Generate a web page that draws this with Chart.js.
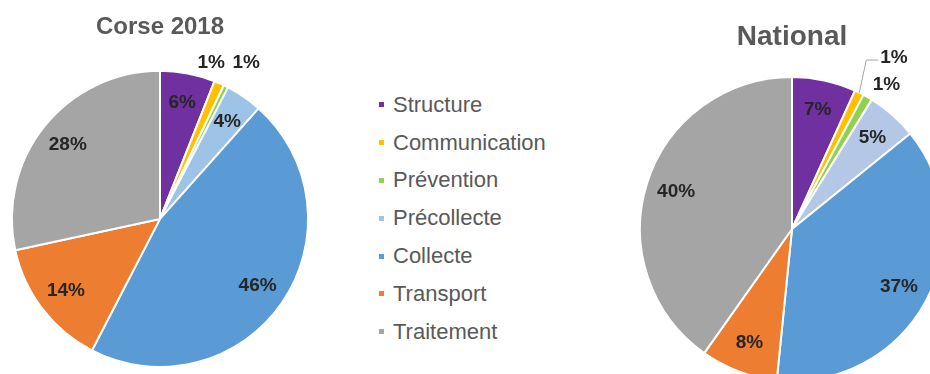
<!DOCTYPE html>
<html>
<head>
<meta charset="utf-8">
<script src="https://cdn.jsdelivr.net/npm/chart.js@4.4.1/dist/chart.umd.min.js"></script>
<style>
  body {
    margin: 0;
    width: 930px;
    height: 374px;
    overflow: hidden;
    background: #fff;
    position: relative;
    font-family: "Liberation Sans", Arial, sans-serif;
  }
  #corse { position: absolute; left: 0; top: 0; }
  #national { position: absolute; left: 629px; top: 0; }
  #legend { position: absolute; left: 379px; top: 86px; }
  .item { display: flex; align-items: center; height: 37.8px; font-size: 22px; color: #595959; }
  .box { width: 5px; height: 5px; margin-right: 9px; }
</style>
</head>
<body>
<canvas id="corse" width="320" height="374"></canvas>
<canvas id="national" width="326" height="382"></canvas>
<div id="legend"></div>
<script>
const categories = ["Structure", "Communication", "Prévention", "Précollecte", "Collecte", "Transport", "Traitement"];
const corseValues = [6, 1.1, 0.5, 4, 46, 14, 28.4];
const nationalValues = [6.8, 1, 1, 5.4, 37.4, 8.2, 40.2];
const corseColors = ["#7030A0", "#FFC000", "#92D050", "#9DC3E6", "#5B9BD5", "#ED7D31", "#A5A5A5"];
const nationalColors = ["#7030A0", "#FFC000", "#92D050", "#B4C7E7", "#5B9BD5", "#ED7D31", "#A5A5A5"];

const labelFont = "bold 19px 'Liberation Sans', Arial, sans-serif";

// percentage labels, small slices are put outside
const pieLabels = {
  id: "pieLabels",
  afterDatasetsDraw(chart, args, opts) {
    const ctx = chart.ctx;
    const meta = chart.getDatasetMeta(0);
    const values = chart.data.datasets[0].data;
    const total = values.reduce((a, b) => a + b, 0);
    ctx.save();
    ctx.font = labelFont;
    ctx.fillStyle = "#262626";
    ctx.textBaseline = "middle";
    let small = [];
    meta.data.forEach((arc, i) => {
      const p = arc.getProps(["x", "y", "startAngle", "endAngle", "outerRadius"], true);
      const mid = (p.startAngle + p.endAngle) / 2;
      const text = Math.round((values[i] / total) * 100) + "%";
      if (values[i] / total < 0.02) {
        small.push({ p: p, mid: mid, text: text });
        return;
      }
      ctx.textAlign = "center";
      ctx.fillText(text, p.x + Math.cos(mid) * p.outerRadius * 0.8, p.y + Math.sin(mid) * p.outerRadius * 0.8);
    });

    if (opts.mode === "top") {
      let xs = small.map((s) => s.p.x + Math.cos(s.mid) * s.p.outerRadius);
      let c = xs.reduce((a, b) => a + b, 0) / xs.length + (opts.shift || 0);
      small.forEach((s, i) => {
        ctx.textAlign = "center";
        let x = c + (i - (small.length - 1) / 2) * 35;
        ctx.fillText(s.text, x, s.p.y - s.p.outerRadius - 8);
      });
    } else {
      let lastY = null;
      for (let i = small.length - 1; i >= 0; i--) {
        const s = small[i];
        const r = s.p.outerRadius;
        ctx.textAlign = "left";
        if (lastY === null) {
          const x = s.p.x + Math.cos(s.mid) * (r + 14);
          const y = s.p.y + Math.sin(s.mid) * (r + 14);
          ctx.fillText(s.text, x - 2, y);
          lastY = y;
        } else {
          const ex = s.p.x + Math.cos(s.mid) * r;
          const ey = s.p.y + Math.sin(s.mid) * r;
          const ly = lastY - 27;
          ctx.strokeStyle = "#A6A6A6";
          ctx.lineWidth = 1;
          ctx.beginPath();
          ctx.moveTo(ex, ey);
          ctx.lineTo(ex + 7, ly + 2);
          ctx.lineTo(ex + 19, ly + 2);
          ctx.stroke();
          ctx.fillText(s.text, ex + 21, ly);
          lastY = ly;
        }
      }
    }
    ctx.restore();
  },
};

function makePie(id, values, colors, title, titleSize, titlePad, bottomPad, mode) {
  return new Chart(document.getElementById(id), {
    type: "pie",
    data: {
      labels: categories,
      datasets: [
        {
          data: values,
          backgroundColor: colors,
          borderColor: "#ffffff",
          borderWidth: 2,
        },
      ],
    },
    options: {
      responsive: false,
      animation: false,
      devicePixelRatio: 1,
      layout: { padding: { bottom: bottomPad } },
      plugins: {
        legend: { display: false },
        tooltip: { enabled: false },
        title: {
          display: true,
          text: title,
          color: "#595959",
          font: { family: "'Liberation Sans', Arial, sans-serif", size: titleSize, weight: "bold", lineHeight: 1.2 },
          padding: titlePad,
        },
        pieLabels: { mode: mode, shift: 6 },
      },
    },
    plugins: [pieLabels],
  });
}

makePie("corse", corseValues, corseColors, "Corse 2018", 24, { top: 13, bottom: 28 }, 6, "top");
makePie("national", nationalValues, nationalColors, "National", 28, { top: 20, bottom: 22.4 }, 0, "side");

let legend = document.getElementById("legend");
for (let i = 0; i < categories.length; i++) {
  let item = document.createElement("div");
  item.classList.add("item");
  let box = document.createElement("span");
  box.classList.add("box");
  box.style.background = corseColors[i];
  let label = document.createElement("span");
  label.innerText = categories[i];
  item.appendChild(box);
  item.appendChild(label);
  legend.appendChild(item);
}
</script>
</body>
</html>
